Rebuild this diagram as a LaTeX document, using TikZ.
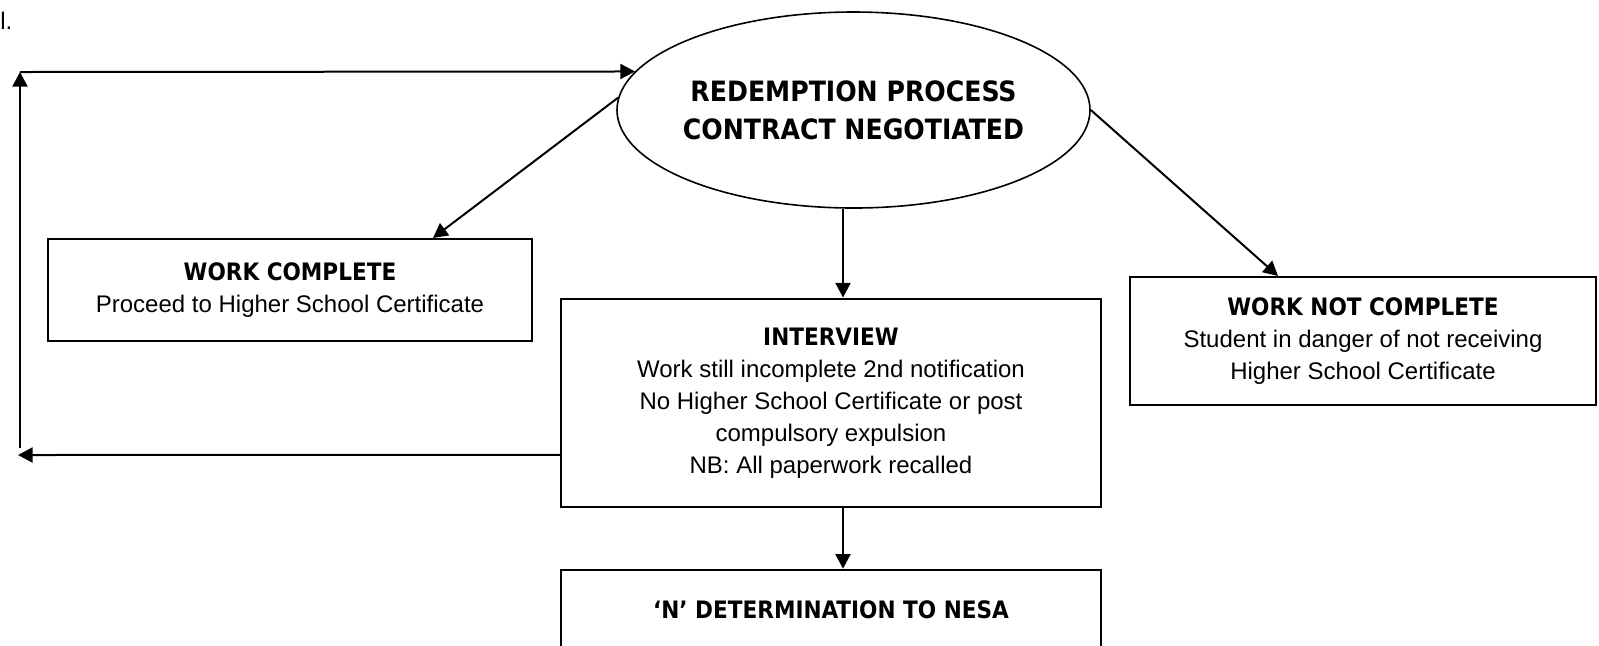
\documentclass[tikz,border=0pt]{standalone}
\usepackage{fontspec}
\setmainfont{Liberation Sans}
\newfontfamily\headfont{DejaVu Sans Condensed}
\usetikzlibrary{positioning}
\usetikzlibrary{calc}
\usetikzlibrary{shapes.geometric}
\usetikzlibrary{arrows.meta}

\newcommand{\boxhead}[1]{{\headfont\bfseries #1}}

\begin{document}
\begin{tikzpicture}[
x=0.5pt, y=-0.5pt,
boxnode/.style={rectangle, draw=black, line width=1pt, inner sep=0pt,
align=center, font=\fontsize{12}{16}\selectfont},
ovalnode/.style={ellipse, draw=black, line width=0.8pt, inner sep=0pt,
minimum width=236.5pt, minimum height=98pt},
titlenode/.style={align=center, inner sep=0pt, font=\headfont\bfseries\fontsize{14}{19}\selectfont},
flow/.style={line width=1pt, -{Triangle[length=7.3pt,width=7.5pt]}}
]
\useasboundingbox (0,0) rectangle (1599,645);

%Nodes
\node[anchor=base west, inner sep=0pt, font=\fontsize{12}{14}\selectfont] (pagenum) at (0,29) {l.};
\node[ovalnode] (ell) at (853.5,110) {};
\node[titlenode] (redtitle) at (ell.center) {REDEMPTION PROCESS\\CONTRACT NEGOTIATED};
\node[boxnode, minimum width=242pt, minimum height=51pt] (wc) at (290,290)
{\boxhead{WORK COMPLETE}\\Proceed to Higher School Certificate};
\node[boxnode, minimum width=270pt, minimum height=104.25pt] (intv) at (831,402.75)
{\boxhead{INTERVIEW}\\Work still incomplete 2nd notification\\No Higher School Certificate or post\\compulsory expulsion\\NB: All paperwork recalled};
\node[boxnode, minimum width=233pt, minimum height=64pt] (wnc) at (1363,341)
{\boxhead{WORK NOT COMPLETE}\\Student in danger of not receiving\\Higher School Certificate};
\node[boxnode, minimum width=270pt, minimum height=39.65pt] (nbox) [below=30.35pt of intv]
{\boxhead{‘N’ DETERMINATION TO NESA}};

%Coordinates
\coordinate (wcin) at ($ (wc.north) + (143,0) $);
\coordinate (wncin) at ($ (wnc.north) + (-85,0) $);
\coordinate (ellout) at ($ (ell.south) + (-10.5,0) $);
\coordinate (intvout) at ($ (intv.south) + (12,0) $);
\coordinate (intvleft) at ($ (intv.west) + (0,52) $);
\coordinate (loopbot) at (18,455);
\coordinate (loopfoot) at (20,448);
\coordinate (looptop) at (20,72);

%Lines
\draw[flow] (ell.177) -- (wcin);
\draw[flow] (ellout) -- (ellout |- intv.north);
\draw[flow] (ell.east) -- (wncin);
\draw[flow] (intvout) -- (intvout |- nbox.north);
\draw[flow] (intvleft) -- (loopbot);
\draw[flow] (loopfoot) -- (looptop);
\draw[flow] (looptop) -- (ell.170);

\end{tikzpicture}
\end{document}
